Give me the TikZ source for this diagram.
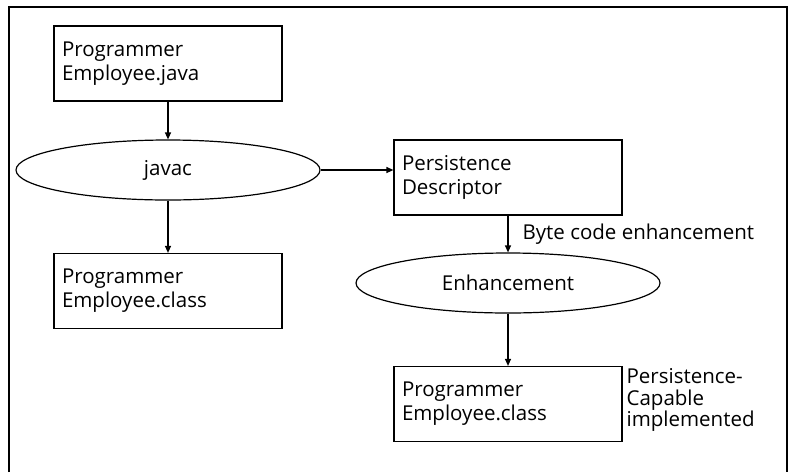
\documentclass[tikz,border=0pt]{standalone}
\usepackage{fontspec}
\setmainfont{Open Sans}
\usetikzlibrary{shapes.geometric,arrows.meta}
\begin{document}
\begin{tikzpicture}[x=1pt,y=-1pt,line width=1.2pt,
  font=\fontsize{20.5}{24}\selectfont,
  filebox/.style={draw,rectangle,minimum width=228pt,minimum height=75pt,
    text width=212pt,align=left,inner sep=8pt},
  toolshape/.style={draw,ellipse,minimum width=304pt,minimum height=60pt,inner sep=0pt},
  flow/.style={-{Triangle[length=7pt,width=6pt]}},
  note/.style={align=left,inner sep=0pt,font=\fontsize{20.5}{21.5}\selectfont}]
\useasboundingbox (0,0) rectangle (794,472);
% outer frame, open at the bottom
\draw (9,472) -- (9,7) -- (787,7) -- (787,472);

\node[filebox] (src) at (168,63.5) {Programmer\\Employee.java};
\node[toolshape] (javac) at (168,170) {javac};
\node[filebox] (cls) at (168,291) {Programmer\\Employee.class};
\node[filebox] (desc) at (508,177.5) {Persistence\\Descriptor};
\node[toolshape] (enh) at (508,283) {Enhancement};
\node[filebox] (out) at (508,404) {Programmer\\Employee.class};

\draw[flow] (src) -- (javac);
\draw[flow] (javac) -- (cls);
\draw[flow] (javac.east) -- (javac.east -| desc.west);
\draw[flow] (desc) -- node[right=14pt,inner sep=0pt,font=\fontsize{20.5}{21.5}\selectfont] (bce) {Byte code enhancement} (enh);
\draw[flow] (enh) -- (out);

\node[note,anchor=north west] (pc) at (626,368) {Persistence-\\Capable\\implemented};
\end{tikzpicture}
\end{document}
